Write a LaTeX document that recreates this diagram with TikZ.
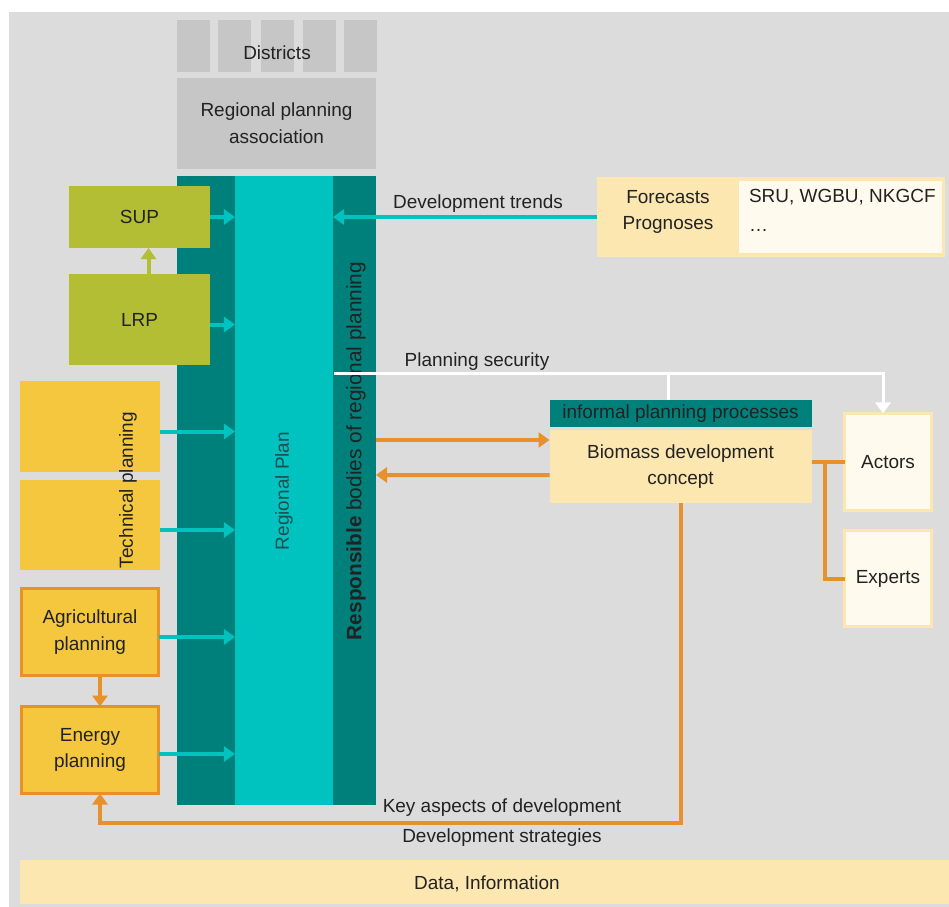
\documentclass[tikz,border=0pt]{standalone}
\usepackage{fontspec}
\setmainfont{Liberation Sans}
\usetikzlibrary{arrows.meta,calc}

\newlength\pxu
\setlength\pxu{0.025cm}

\definecolor{bggrey}{HTML}{DCDCDC}
\definecolor{boxgrey}{HTML}{C6C6C6}
\definecolor{tealdark}{HTML}{00807B}
\definecolor{tealcyan}{HTML}{00C2BF}
\definecolor{olive}{HTML}{B3BE35}
\definecolor{sunyellow}{HTML}{F4C73E}
\definecolor{orangeline}{HTML}{E8912A}
\definecolor{paleyellow}{HTML}{FDE7B0}
\definecolor{cream}{HTML}{FFFAEE}
\definecolor{ink}{HTML}{222222}
\definecolor{plantext}{HTML}{1F4F50}

\begin{document}
\begin{tikzpicture}[x=0.025cm, y=-0.025cm, font=\fontsize{13.5}{19}\selectfont, text=ink,
    every node/.style={inner sep=0pt, outer sep=0pt},
    pxsize/.style 2 args={minimum width=#1\pxu, minimum height=#2\pxu},
    greybox/.style={fill=boxgrey},
    greenbox/.style={fill=olive, pxsize={141}{#1}},
    yellowbox/.style={fill=sunyellow, pxsize={140}{#1}},
    orangebox/.style={fill=sunyellow, draw=orangeline, line width=0.075cm, pxsize={137}{#1}, align=center},
    palebox/.style={fill=cream, draw=paleyellow, line width=0.075cm, pxsize={87}{#1}},
    cyanarrow/.style={draw=tealcyan, line width=0.1cm, -{Triangle[length=0.275cm, width=0.375cm]}},
    orangearrow/.style={draw=orangeline, line width=0.1cm, -{Triangle[length=0.275cm, width=0.375cm]}},
    greenarrow/.style={draw=olive, line width=0.1cm, -{Triangle[length=0.275cm, width=0.375cm]}},
    whitearrow/.style={draw=white, line width=0.075cm, -{Triangle[length=0.275cm, width=0.375cm]}},
    orangelink/.style={draw=orangeline, line width=0.1cm},
    whitelink/.style={draw=white, line width=0.075cm}]

    % Frame and background
    \useasboundingbox (0,0) rectangle (949,907);
    \fill[bggrey] (9,12) rectangle (949,907);

    % Districts and association
    \foreach \x [count=\i] in {193,234.5,277.5,319.5,360}
        \node at (\x,46) [greybox, pxsize={33}{52}] (dist\i) {};
    \node at (277,53) (districts) {Districts};
    \node at (276.5,123.5) [greybox, pxsize={199}{91}, align=center] (assoc) {Regional planning\\association};

    % Regional plan column
    \node at (276.5,490.5) [fill=tealdark, pxsize={199}{629}] (bodies) {};
    \node at (284,490.5) [fill=tealcyan, pxsize={98}{629}] (plan) {};
    \node at (284,491) [rotate=90, text=plantext] (plantitle) {Regional Plan};
    \node at (356,451) [rotate=90, font=\fontsize{14.8}{19}\selectfont] (bodiestitle) {\textbf{Responsible} bodies of regional planning};

    % Left column of plans
    \node at (139.5,217) [greenbox=62] (sup) {SUP};
    \node at (139.5,319.5) [greenbox=91] (lrp) {LRP};
    \node at (90,426.5) [yellowbox=91] (tech1) {};
    \node at (90,525) [yellowbox=90] (tech2) {};
    \node at (128,490) [rotate=90] (techtitle) {Technical planning};
    \node at (90,632) [orangebox=87] (agri) {Agricultural\\planning};
    \node at (90,750) [orangebox=87] (energy) {Energy\\planning};

    % Arrows into the regional plan
    \draw[cyanarrow] (sup.east) -- (sup.east -| plan.west);
    \draw[cyanarrow] ($(lrp.east)+(0,5)$) -- ($(lrp.east -| plan.west)+(0,5)$);
    \draw[cyanarrow] ($(tech1.east)+(0,5)$) -- ($(tech1.east -| plan.west)+(0,5)$);
    \draw[cyanarrow] ($(tech2.east)+(0,5)$) -- ($(tech2.east -| plan.west)+(0,5)$);
    \draw[cyanarrow] ($(agri.east)+(0,5)$) -- ($(agri.east -| plan.west)+(0,5)$);
    \draw[cyanarrow] ($(energy.east)+(0,4)$) -- ($(energy.east -| plan.west)+(0,4)$);
    \draw[greenarrow] ($(lrp.north)+(9,0)$) -- ($(sup.south)+(9,0)$);
    \coordinate (ret) at (100,823);
    \draw[orangearrow] (agri.south -| ret) -- (energy.north -| ret);

    % Forecasts
    \node at (771,217) [fill=paleyellow, pxsize={348}{80}] (forecasts) {};
    \node at (840.5,217) [fill=cream, pxsize={203}{72}] (sources) {};
    \node at (668,212) [align=center] (fctext) {Forecasts\\Prognoses};
    \node at (749,197) [anchor=west] (srutext) {SRU, WGBU, NKGCF};
    \node at (749,230) [anchor=west] (dots) {\dots};
    \draw[cyanarrow] (forecasts.west) -- (forecasts.west -| plan.east);
    \node at (478,204) (trends) {Development trends};

    % Informal planning
    \node at (680.5,413.5) [fill=tealdark, pxsize={262}{27}] (informal) {informal planning processes};
    \node at (680.5,466.5) [fill=paleyellow, pxsize={262}{73}, align=center] (biomass) {Biomass development\\concept};
    \node at (888,462) [palebox=97] (actors) {Actors};
    \node at (888,578.5) [palebox=96] (experts) {Experts};

    % Planning security
    \coordinate (secstart) at ($(plan.east)+(1,-117.5)$);
    \draw[whitelink] (secstart) -- ($(secstart -| actors.north)+(-5,0)$)
        -- ($(actors.north)+(-5,-10)$);
    \draw[whitearrow] ($(secstart -| actors.north)+(-5,10)$) -- ($(actors.north)+(-5,0)$);
    \draw[whitelink] ($(secstart -| informal.north)+(-12,0)$) -- ($(informal.north)+(-12,0)$);
    \node at (477,362) (security) {Planning security};

    % Links to the responsible bodies
    \draw[orangearrow] ($(bodies.east)+(0,-50.5)$) -- ($(biomass.west)+(0,-26.5)$);
    \draw[orangearrow] ($(biomass.west)+(0,8.5)$) -- ($(bodies.east)+(0,-15.5)$);

    % Actors and experts
    \coordinate (fork) at (825,462);
    \draw[orangelink] (actors.west) -- (fork) |- (experts.west);
    \draw[orangelink] (fork) -- (fork -| biomass.east);

    % Return to energy planning
    \draw[orangearrow] (biomass.south) |- (ret) -- (ret |- energy.south);
    \node at (502,808) (keyaspects) {Key aspects of development};
    \node at (502,838) (strategies) {Development strategies};

    % Data band
    \node at (484.5,882) [fill=paleyellow, pxsize={929}{44}] (data) {};
    \node at (487,884) (datatext) {Data, Information};
\end{tikzpicture}
\end{document}
